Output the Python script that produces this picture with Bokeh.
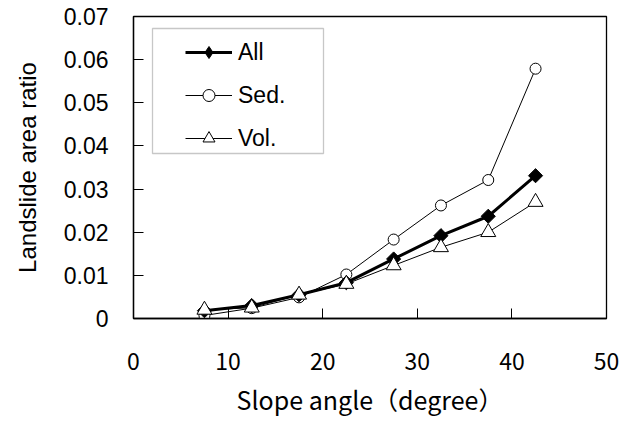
import numpy as np
from bokeh.plotting import figure
from bokeh.models import (ColumnDataSource, FixedTicker, Legend, LegendItem,
                          BoxAnnotation, Range1d)
from bokeh.embed import file_html
from bokeh.resources import INLINE

# ---- data ----
slope = [7.5, 12.5, 17.5, 22.5, 27.5, 32.5, 37.5, 42.5]
all_ratio = [0.0018, 0.0030, 0.0055, 0.0083, 0.0138, 0.0192, 0.0237, 0.0331]
sed_ratio = [0.0007, 0.0024, 0.0049, 0.0102, 0.0183, 0.0262, 0.0321, 0.0579]
vol_ratio = [0.0020, 0.0025, 0.0055, 0.0080, 0.0123, 0.0165, 0.0200, 0.0270]
x_ticks = [0, 10, 20, 30, 40, 50]
y_ticks = [0, 0.01, 0.02, 0.03, 0.04, 0.05, 0.06, 0.07]
series_names = ["All", "Sed.", "Vol."]

src = ColumnDataSource(dict(x=slope, a=all_ratio, s=sed_ratio, v=vol_ratio))

p = figure(width=638, height=421, output_backend="svg", toolbar_location=None,
           x_range=Range1d(0, 50), y_range=Range1d(0, 0.07),
           min_border_left=133, min_border_right=32,
           min_border_top=16, min_border_bottom=103)
p.background_fill_color = "white"
p.border_fill_color = "white"
p.outline_line_color = "black"
p.outline_line_width = 1.3
p.xgrid.visible = False
p.ygrid.visible = False

# series
ls = p.line("x", "s", source=src, line_color="black", line_width=1)
ms = p.scatter("x", "s", source=src, marker="circle", size=11,
               fill_color="white", line_color="black", line_width=1)
la = p.line("x", "a", source=src, line_color="black", line_width=3)
ma = p.scatter("x", "a", source=src, marker="square", angle=np.pi / 4, size=10,
               fill_color="black", line_color="black", line_width=1)
# legend-only diamond (rotated markers are not rotated inside a legend)
ma_leg = p.scatter("x", "a", source=src, marker="diamond", size=14,
                   fill_color="black", line_color="black", line_width=1,
                   visible=False)
lv = p.line("x", "v", source=src, line_color="black", line_width=1)
mv = p.scatter("x", "v", source=src, marker="triangle", size=15,
               fill_color="white", line_color="black", line_width=1)

# axes
for ax in (p.xaxis[0], p.yaxis[0]):
    ax.axis_line_color = "black"
    ax.axis_line_width = 1.3
    ax.major_tick_line_color = "black"
    ax.major_tick_line_width = 1
    ax.major_tick_in = 10
    ax.major_tick_out = 0
    ax.minor_tick_line_color = None
    ax.major_label_text_color = "black"
    ax.axis_label_text_color = "black"
    ax.axis_label_text_font_style = "normal"

p.xaxis.ticker = FixedTicker(ticks=x_ticks)
p.yaxis.ticker = FixedTicker(ticks=y_ticks)
p.yaxis.major_label_overrides = {t: ("0" if t == 0 else f"{t:.2f}") for t in y_ticks}

p.yaxis.major_label_text_font = "Liberation Sans"
p.yaxis.major_label_text_font_size = "23px"
p.yaxis.major_label_standoff = 25
p.yaxis.axis_label = "Landslide area ratio"
p.yaxis.axis_label_text_font = "Liberation Sans"
p.yaxis.axis_label_text_font_size = "24px"
p.yaxis.axis_label_standoff = 20

p.xaxis.major_label_text_font = "Noto Sans CJK JP"
p.xaxis.major_label_text_font_size = "23px"
p.xaxis.major_label_standoff = 34
p.xaxis.axis_label = "Slope angle（degree）"
p.xaxis.axis_label_text_font = "Noto Sans CJK JP"
p.xaxis.axis_label_text_font_size = "25px"
p.xaxis.axis_label_standoff = 8

# legend frame
box = BoxAnnotation(left=152, right=323, top=28, bottom=153,
                    left_units="canvas", right_units="canvas",
                    top_units="canvas", bottom_units="canvas",
                    fill_color="white", fill_alpha=1.0,
                    line_color="#444444", line_width=1.3)
p.add_layout(box)

legend = Legend(items=[
    LegendItem(label=series_names[0], renderers=[la, ma_leg]),
    LegendItem(label=series_names[1], renderers=[ls, ms]),
    LegendItem(label=series_names[2], renderers=[lv, mv]),
], location=(52, 165))
legend.border_line_color = None
legend.background_fill_alpha = 0
legend.padding = 0
legend.margin = 0
legend.spacing = 13
legend.glyph_width = 47
legend.glyph_height = 30
legend.label_height = 30
legend.label_standoff = 6
legend.label_text_font = "Liberation Sans"
legend.label_text_font_size = "23px"
legend.label_text_color = "black"
p.add_layout(legend, "center")

open("out.html", "w").write(file_html(p, INLINE))
